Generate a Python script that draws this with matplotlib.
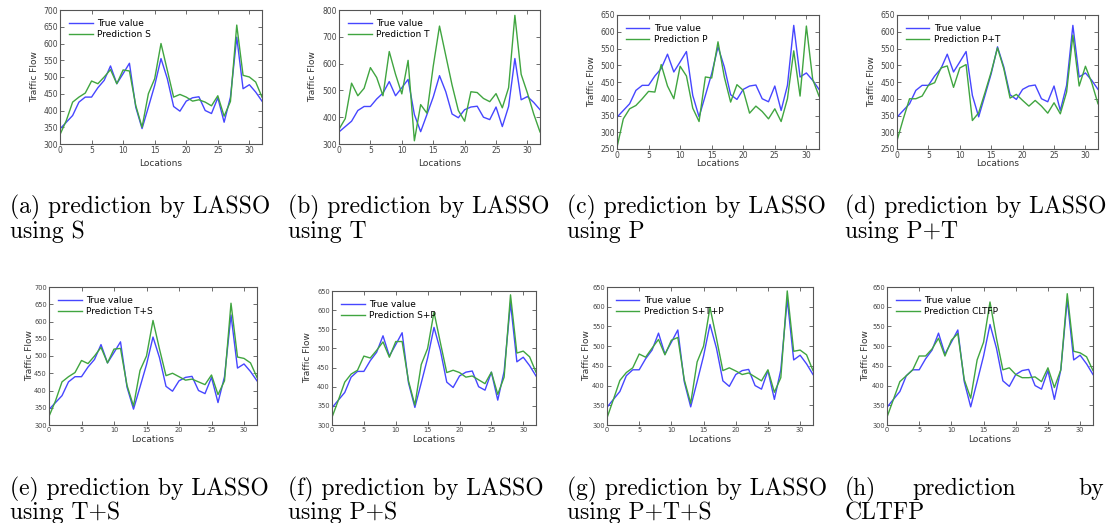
import numpy as np
import matplotlib
matplotlib.use('Agg')
import matplotlib.pyplot as plt

W, H = 1110, 523
col_true = '#4646ff'
col_pred = '#40a540'

locations = np.arange(33)

true_value = [345, 365, 385, 425, 440, 440, 468, 490, 533, 480, 510, 541, 410, 346, 410, 475,
              555, 495, 412, 398, 428, 438, 441, 400, 391, 438, 365, 440, 619, 465, 477, 455, 428]

pred_s = [328, 370, 425, 440, 452, 488, 480, 500, 522, 480, 521, 518, 415, 350, 450, 495,
          600, 520, 440, 448, 440, 428, 432, 425, 414, 444, 383, 427, 655, 505, 500, 485, 440]
pred_t = [355, 395, 527, 480, 508, 585, 548, 480, 645, 560, 487, 612, 312, 447, 415, 590,
          740, 630, 520, 425, 385, 495, 492, 470, 458, 488, 435, 510, 780, 560, 490, 412, 345]
pred_p = [255, 340, 370, 380, 400, 422, 420, 502, 438, 400, 497, 468, 372, 332, 465, 462,
          570, 465, 390, 442, 425, 357, 378, 362, 340, 370, 332, 400, 543, 408, 617, 458, 408]
pred_pt = [275, 340, 400, 400, 408, 440, 448, 492, 498, 434, 492, 502, 335, 358, 418, 480,
           552, 490, 402, 413, 395, 378, 395, 378, 357, 388, 355, 420, 590, 438, 497, 448, 385]
pred_ts = [325, 370, 425, 440, 452, 487, 478, 500, 525, 480, 520, 522, 415, 355, 458, 500,
           603, 520, 443, 450, 440, 430, 433, 425, 417, 445, 388, 428, 653, 497, 493, 480, 438]
pred_sp = [320, 365, 412, 433, 443, 480, 475, 495, 517, 477, 518, 518, 415, 352, 458, 500,
           595, 515, 437, 443, 437, 425, 428, 418, 408, 438, 380, 425, 640, 488, 493, 478, 438]
pred_stp = [318, 365, 413, 433, 445, 480, 472, 495, 517, 478, 515, 522, 415, 355, 460, 500,
            598, 520, 438, 445, 437, 428, 432, 422, 412, 440, 383, 420, 640, 487, 490, 478, 438]
pred_cltfp = [320, 365, 410, 425, 440, 475, 475, 493, 520, 475, 515, 532, 415, 368, 465, 510,
              612, 520, 440, 445, 428, 420, 420, 422, 410, 445, 395, 440, 633, 487, 483, 473, 438]

# (prediction, legend label, y limits, y step, caption lines)
panels = [
    (pred_s, 'Prediction S', (300, 700), 50, ['(a) prediction by LASSO', 'using S']),
    (pred_t, 'Prediction T', (300, 800), 100, ['(b) prediction by LASSO', 'using T']),
    (pred_p, 'Prediction P', (250, 650), 50, ['(c) prediction by LASSO', 'using P']),
    (pred_pt, 'Prediction P+T', (250, 650), 50, ['(d) prediction by LASSO', 'using P+T']),
    (pred_ts, 'Prediction T+S', (300, 700), 50, ['(e) prediction by LASSO', 'using T+S']),
    (pred_sp, 'Prediction S+P', (300, 650), 50, ['(f) prediction by LASSO', 'using P+S']),
    (pred_stp, 'Prediction S+T+P', (300, 650), 50, ['(g) prediction by LASSO', 'using P+T+S']),
    (pred_cltfp, 'Prediction CLTFP', (300, 650), 50, None),
]

# axes boxes in pixels: left, right, top, bottom ; ylabel x ; xlabel y
boxes = [
    (60, 262, 10, 144, 35, 164),
    (339, 540, 10, 144, 313, 164),
    (617, 819, 15, 149, 592, 164),
    (897, 1098, 15, 149, 872, 164),
    (49, 257, 287, 425, 30, 440),
    (332, 536, 291, 425, 308, 440),
    (607, 813, 287, 425, 587, 440),
    (887, 1093, 287, 425, 866, 440),
]
cap_x = [10, 288, 567, 845]
cap_y = [[207, 232], [489, 513]]
cap_fs = 17

fig = plt.figure(figsize=(W / 100, H / 100), dpi=100)

for i, (pred, lab, ylim, ystep, cap) in enumerate(panels):
    l, r, t, b, ylx, xly = boxes[i]
    row, col = divmod(i, 4)
    tfs = 5.5 if row == 0 else 4.8
    lfs = 6.5
    ax = fig.add_axes([l / W, 1 - b / H, (r - l) / W, (b - t) / H])
    ax.plot(locations, true_value, color=col_true, lw=1.0, label='True value')
    ax.plot(locations, pred, color=col_pred, lw=1.0, label=lab)
    ax.set_xlim(0, 32)
    ax.set_ylim(*ylim)
    ax.set_xticks(np.arange(0, 31, 5))
    ax.set_yticks(np.arange(ylim[0], ylim[1] + 1, ystep))
    ax.tick_params(direction='in', top=True, right=True, length=3, width=0.6,
                   labelsize=tfs, labelcolor='#444444', color='#555555', pad=1.5)
    for sp in ax.spines.values():
        sp.set_color('#555555')
        sp.set_linewidth(0.8)
    ax.set_xlabel('Locations', fontsize=lfs, color='#333333')
    ax.set_ylabel('Traffic Flow', fontsize=lfs, color='#333333')
    ax.xaxis.set_label_coords(0.5, -(xly - b) / (b - t), transform=ax.transAxes)
    ax.xaxis.label.set_va('center')
    ax.yaxis.set_label_coords((ylx - l) / (r - l), 0.5, transform=ax.transAxes)
    ax.yaxis.label.set_va('center')
    ax.legend(loc='upper left', frameon=False, fontsize=lfs, handlelength=2.6,
              borderaxespad=0.6, labelspacing=0.25, handletextpad=0.5)

    x0 = cap_x[col] / W
    if cap is not None:
        fig.text(x0, 1 - cap_y[row][0] / H, cap[0], family='cmr10', fontsize=cap_fs, va='center')
        fig.text(x0, 1 - cap_y[row][1] / H, cap[1], family='cmr10', fontsize=cap_fs, va='center')
    else:
        # justified caption (h)
        fig.text(x0, 1 - cap_y[row][0] / H, '(h)', family='cmr10', fontsize=cap_fs, va='center')
        fig.text(912 / W, 1 - cap_y[row][0] / H, 'prediction', family='cmr10', fontsize=cap_fs, va='center')
        fig.text(1104 / W, 1 - cap_y[row][0] / H, 'by', family='cmr10', fontsize=cap_fs, va='center', ha='right')
        fig.text(x0, 1 - cap_y[row][1] / H, 'CLTFP', family='cmr10', fontsize=cap_fs, va='center')

fig.savefig('out.png', dpi=100)
